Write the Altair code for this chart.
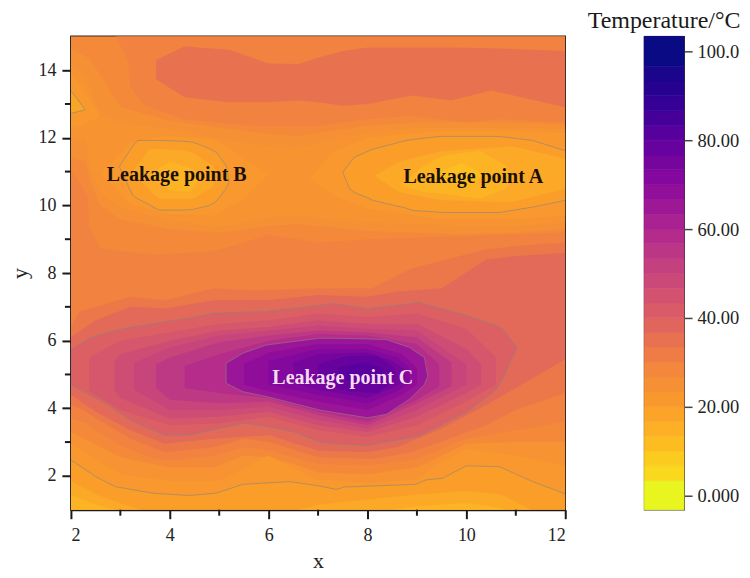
import altair as alt
import pandas as pd

SERIF = "Liberation Serif"

# colour anchors of the scale bar
COLOR_STOPS = [0, 5, 10, 15, 20, 30, 35, 40, 50, 60, 70, 80, 90, 100]
COLOR_HEX = ["#e9f51f", "#f9d81e", "#fdc41f", "#fdb025", "#fa9e29", "#f28240", "#e87150", "#dc5f63",
             "#c8457c", "#b0268f", "#8c0a9c", "#5f00a0", "#2d0094", "#0a0a85"]

BAR_LEVELS = [0, 5, 8.33, 11.67, 15, 18.33, 21.67, 25, 28.33, 31.67, 35, 38.33, 41.67, 45,
              48.33, 51.67, 55, 58.33, 61.67, 65, 68.33, 71.67, 75, 78.33, 81.67, 85, 88.33,
              91.67, 95, 100]
BAR_EDGES = [-3.2, 3.33, 6.67, 10, 13.33, 16.67, 20, 23.33, 26.67, 30, 33.33, 36.67, 40, 43.33,
             46.67, 50, 53.33, 56.67, 60, 63.33, 66.67, 70, 73.33, 76.67, 80, 83.33, 86.67,
             90, 93.33, 96.67, 103.4]
BAR_TICKS = [0, 20, 40, 60, 80, 100]

# (level, xs, lower outline, upper outline), in painting order
BASE = (27, [2, 12], [1, 1], [15, 15])

LOW_ZONE = [
    (30, [2, 2.34, 2.37, 2.6, 3, 3.7, 4, 4.9, 5.5, 6, 7, 8, 9, 10, 11, 12],
     [3.7, 3.55, 3.5, 3.25, 2.9, 2.5, 2.45, 2.6, 2.85, 2.75, 2.35, 2.3, 2.5, 3.1, 3.35, 3.6],
     [11.05, 10.3, 9.35, 8.75, 8.65, 8.55, 8.57, 8.65, 8.9, 9.15, 8.9, 9.0, 9.05, 9.1, 9.15, 9.2]),
    (33, [2, 2.17, 3.2, 3.9, 4.9, 5.5, 6, 7, 8.1, 8.9, 10.4, 11, 12],
     [4.1, 4.0, 3.1, 2.7, 2.85, 3.1, 3.0, 2.55, 2.5, 2.7, 3.5, 3.95, 4.45],
     [6.4, 6.86, 7.3, 7.2, 7.55, 7.5, 7.5, 7.55, 7.55, 8.14, 8.7, 8.8, 8.9]),
    (37, [2, 2.5, 3.2, 3.9, 4.9, 6, 7, 8, 8.6, 9.5, 10.4, 11, 12],
     [4.4, 3.9, 3.35, 2.95, 3.1, 3.2, 2.75, 2.7, 2.85, 3.4, 4.1, 4.6, 5.45],
     [6.1, 6.6, 7.0, 6.95, 7.2, 7.2, 7.35, 7.3, 7.45, 7.55, 8.4, 8.5, 8.6]),
]
RING_X = [2, 2.37, 2.8, 3.25, 3.9, 4.4, 4.87, 5.5, 5.95, 6.5, 7.03, 7.3, 8, 9.05, 10, 10.6, 10.73, 11.03]
RING_LO = [4.69, 4.4, 4.05, 3.6, 3.2, 3.2, 3.36, 3.55, 3.46, 3.3, 3.0, 2.95, 2.9, 3.18, 3.88, 4.55, 4.85, 5.8]
RING_HI = [5.72, 6.07, 6.27, 6.41, 6.56, 6.67, 6.81, 6.85, 6.86, 6.96, 7.05, 7.1, 6.95, 7.13, 6.75, 6.45, 6.35, 5.8]
INNER_X = [5.14, 5.48, 5.95, 7.03, 7.3, 8, 8.38, 8.85, 9.15, 9.22]
INNER_LO = [4.74, 4.49, 4.35, 3.95, 3.88, 3.72, 3.82, 4.27, 4.7, 4.95]
INNER_HI = [5.33, 5.63, 5.87, 6.07, 6.07, 6.05, 6.03, 5.8, 5.5, 4.95]

CORE = [
    (40, RING_X, RING_LO, RING_HI),
    (43, [2.37, 3, 4, 5, 6, 7, 8, 9, 10, 10.6],
     [4.5, 3.95, 3.5, 3.55, 3.75, 3.35, 3.15, 3.5, 4.2, 4.7],
     [5.5, 6.0, 6.25, 6.5, 6.6, 6.8, 6.7, 6.8, 6.35, 5.5]),
    (47, [2.88, 3, 4, 5, 6, 7, 8, 9, 10, 10.3],
     [4.55, 4.3, 3.7, 3.75, 3.9, 3.5, 3.3, 3.75, 4.45, 4.7],
     [5.4, 5.6, 6.0, 6.3, 6.4, 6.6, 6.5, 6.5, 5.75, 5.3]),
    (50, [3.28, 4, 5, 6, 7, 8, 9, 10],
     [4.55, 3.95, 3.95, 4.05, 3.65, 3.4, 3.95, 4.7],
     [5.35, 5.8, 6.15, 6.3, 6.45, 6.35, 6.3, 5.3]),
    (54, [3.72, 4, 5, 6, 7, 8, 9, 9.7],
     [4.6, 4.25, 4.15, 4.2, 3.8, 3.5, 4.15, 4.65],
     [5.3, 5.5, 5.95, 6.15, 6.3, 6.25, 6.1, 5.35]),
    (58, [4.3, 5, 6, 7, 8, 9, 9.45],
     [4.6, 4.45, 4.3, 3.9, 3.6, 4.25, 4.65],
     [5.25, 5.6, 6.0, 6.2, 6.15, 5.9, 5.3]),
    (66, INNER_X, INNER_LO, INNER_HI),
    (69, [5.5, 6, 7, 8, 8.7, 9],
     [4.7, 4.5, 4.2, 3.95, 4.4, 4.7],
     [5.3, 5.65, 5.9, 5.9, 5.6, 5.2]),
    (72, [6, 7, 8, 8.6, 8.85],
     [4.7, 4.4, 4.15, 4.5, 4.75],
     [5.4, 5.75, 5.75, 5.5, 5.2]),
    (75, [6.5, 7, 8, 8.5, 8.75],
     [4.75, 4.55, 4.3, 4.6, 4.8],
     [5.35, 5.6, 5.65, 5.4, 5.15]),
    (78, [7, 7.6, 8.2, 8.55],
     [4.8, 4.5, 4.45, 4.8],
     [5.3, 5.55, 5.55, 5.2]),
    (81, [7.4, 7.9, 8.3],
     [4.9, 4.7, 4.85],
     [5.2, 5.35, 5.2]),
]

TOP_ZONE = [
    (30, [2.9, 3.15, 3.2, 3.5, 4.3, 5.7, 7, 8, 8.9, 10, 10.66, 12],
     [15, 14.3, 13.5, 12.95, 12.55, 12.35, 12.35, 12.55, 12.65, 12.45, 12.55, 12.45],
     [15, 15, 15, 15, 15, 15, 15, 15, 15, 15, 15, 15]),
    (35, [3.72, 4.3, 5.2, 6, 6.6, 7, 7.5, 8, 8.9, 9.7, 10.5, 12],
     [13.73, 13.2, 13.05, 13.05, 13.1, 13.05, 12.95, 13.0, 13.25, 13.1, 13.4, 12.9],
     [14.3, 14.7, 14.6, 14.2, 14.18, 14.37, 14.57, 14.67, 14.67, 14.67, 14.65, 14.57]),
]

MID_X = [2, 2.3, 2.4, 2.6, 3, 4, 5, 5.3, 6, 6.6, 8, 9, 10, 11, 12]
LOW_BLOBS = [
    (25, MID_X,
     [11.4, 11.3, 10.7, 10.0, 9.6, 9.3, 9.2, 9.25, 9.4, 9.45, 9.25, 9.2, 9.15, 9.2, 9.3],
     [14.65, 14.4, 14.25, 13.85, 12.9, 12.5, 12.3, 12.25, 12.1, 12.05, 12.35, 12.45, 12.45, 12.45, 12.4]),
    (23.5, MID_X,
     [11.95, 11.95, 11.05, 10.4, 9.95, 9.55, 9.4, 9.45, 9.65, 9.7, 9.5, 9.45, 9.4, 9.4, 9.5],
     [14.2, 13.8, 13.4, 12.65, 12.45, 12.25, 11.95, 11.9, 11.75, 11.7, 12.15, 12.3, 12.3, 12.3, 12.25]),
    (22, [2, 2.25, 2.55], [12.3, 12.4, 12.6], [13.9, 13.45, 12.75]),
    (18, [2, 2.29], [12.72, 12.83], [13.39, 12.83]),
    (22, [2.6, 3.2, 3.9, 4.9, 5.5, 6.0],
     [10.95, 10.05, 9.75, 9.7, 10.2, 10.95],
     [10.95, 11.85, 12.05, 11.95, 11.4, 10.95]),
    (22, [6.83, 7.3, 8, 9.45, 11, 12],
     [10.8, 10.3, 9.9, 9.6, 9.6, 9.7],
     [10.8, 11.57, 12.0, 12.2, 12.2, 12.15]),
]
B_X = [2.98, 3.25, 3.35, 3.79, 4.26, 4.47, 4.8, 4.94, 5.14, 5.2]
B_LO = [11.15, 10.3, 10.2, 9.86, 9.86, 9.88, 10.0, 10.12, 10.5, 10.7]
B_HI = [11.15, 11.75, 11.92, 11.92, 11.9, 11.87, 11.68, 11.57, 11.18, 10.7]
A_X = [7.5, 7.64, 7.74, 8.04, 8.11, 8.78, 8.92, 9.45, 9.59, 10.66, 11.34, 12]
A_LO = [10.98, 10.49, 10.38, 10.2, 10.15, 9.92, 9.85, 9.8, 9.79, 9.79, 9.95, 10.15]
A_HI = [10.98, 11.25, 11.43, 11.62, 11.66, 11.92, 11.95, 12.04, 12.04, 12.04, 11.92, 11.62]
BLOB_CORES = [
    (20, B_X, B_LO, B_HI),
    (17, [3.25, 3.59, 3.79, 4.33, 4.47, 4.87, 4.95],
     [11.0, 10.45, 10.2, 10.2, 10.2, 10.55, 10.9],
     [11.0, 11.67, 11.67, 11.62, 11.55, 11.18, 10.9]),
    (14, [3.6, 4.0, 4.4, 4.6],
     [10.9, 10.45, 10.4, 10.75],
     [10.9, 11.3, 11.1, 10.95]),
    (20, A_X, A_LO, A_HI),
    (17, [8.14, 8.65, 9.5, 10.93, 12],
     [10.88, 10.39, 10.15, 10.1, 10.5],
     [10.88, 11.3, 11.6, 11.75, 11.38]),
    (14, [8.65, 9.15, 9.52, 10.26, 10.8, 10.95],
     [10.6, 10.4, 10.35, 10.2, 10.5, 10.85],
     [10.6, 11.18, 11.47, 11.62, 11.18, 10.85]),
    (11.5, [9.3, 9.9, 10.4], [10.9, 10.55, 10.9], [10.9, 11.25, 10.9]),
]
BOTTOM = [
    (24, [2, 3, 4, 4.9, 5.5, 6, 6.5, 7, 8, 9, 10, 11, 12],
     [1] * 13,
     [3.3, 2.55, 2.25, 2.25, 2.6, 2.55, 2.35, 2.1, 2.05, 2.25, 2.95, 3.0, 3.0]),
    (22, [2, 3, 4, 5, 5.6, 6, 6.6, 7, 8, 9, 9.5, 10, 11, 12],
     [1] * 14,
     [2.95, 2.05, 1.85, 1.85, 2.3, 2.6, 2.15, 1.9, 1.8, 1.9, 2.4, 2.8, 2.6, 2.3]),
]
BOTTOM_X = [2, 2.5, 2.9, 3.65, 4.4, 4.94, 5.48, 6.43, 7.03, 7.37, 7.53, 8.98, 9.18, 9.52, 10, 10.67, 11.34, 12]
BOTTOM_Y = [2.47, 1.98, 1.68, 1.49, 1.42, 1.49, 1.75, 1.83, 1.7, 1.6, 1.67, 1.75, 1.88, 1.93, 2.3, 2.27, 1.83, 1.47]
BOTTOM_CORE = [
    (20, BOTTOM_X, [1] * 18, BOTTOM_Y),
    (17, [2, 2.5, 3, 3.4, 6.6, 7, 8, 9, 10, 10.7, 11.3, 12],
     [1] * 12,
     [1.85, 1.45, 1.2, 1.0, 1.0, 1.15, 1.3, 1.45, 1.55, 1.45, 1.0, 1.0]),
    (14, [2, 2.5, 2.9, 8.5, 9, 10, 10.5, 10.8, 12],
     [1] * 9,
     [1.45, 1.15, 1.0, 1.0, 1.1, 1.2, 1.1, 1.0, 1.0]),
]
TRI_X = [2, 2.29, 2]
TRI_Y = [13.39, 12.83, 12.72]

LABELS = ["Leakage point B", "Leakage point A", "Leakage point C"]
LABEL_X = [4.14, 10.14, 7.5]
LABEL_Y = [10.9, 10.85, 4.9]
LABEL_COLOR = ["#1a1008", "#1a1008", "#f6dcf0"]
LABEL_SIZE = [20, 20, 20]

X_MAJOR = [2, 4, 6, 8, 10, 12]
X_MINOR = [3, 5, 7, 9, 11]
Y_MAJOR = [2, 4, 6, 8, 10, 12, 14]
Y_MINOR = [3, 5, 7, 9, 11, 13]

xscale = alt.Scale(domain=[2, 12], nice=False, zero=False)
yscale = alt.Scale(domain=[1, 15], nice=False, zero=False)
cscale = alt.Scale(domain=COLOR_STOPS, range=COLOR_HEX, interpolate="rgb")
X = alt.X("x:Q", scale=xscale, axis=alt.Axis(values=X_MAJOR, title="x", format="d", grid=False,
          domainWidth=2, domainColor="#1a1a1a", tickWidth=2, tickColor="#1a1a1a", tickSize=9,
          labelPadding=8, titlePadding=6))
Y = alt.Y("lo:Q", scale=yscale, axis=alt.Axis(values=Y_MAJOR, title="y", format="d", grid=False,
          domainWidth=2, domainColor="#1a1a1a", tickWidth=2, tickColor="#1a1a1a", tickSize=9,
          labelPadding=6, titlePadding=6.2))


def band(spec):
    level, xs, lo, hi = spec
    df = pd.DataFrame({"x": xs, "lo": lo, "hi": hi, "level": [level] * len(xs)})
    return alt.Chart(df).mark_area(interpolate="linear", clip=True, line=False).encode(
        x=X, y=Y, y2="hi:Q",
        color=alt.Color("level:Q", scale=cscale, legend=None))


def contour(xs, ys):
    df = pd.DataFrame({"x": xs, "lo": ys, "i": list(range(len(xs)))})
    return alt.Chart(df).mark_line(color="#8a8580", strokeWidth=1, opacity=0.6, clip=True).encode(
        x=X, y=Y, order="i:Q")


def closed(xs, lo, hi):
    return (list(xs) + list(reversed(xs)) + [xs[0]],
            list(hi) + list(reversed(lo)) + [hi[0]])


layers = [band(s) for s in [BASE] + LOW_ZONE + TOP_ZONE + CORE + LOW_BLOBS + BLOB_CORES + BOTTOM + BOTTOM_CORE]
layers.append(contour(*closed(RING_X, RING_LO, RING_HI)))
layers.append(contour(*closed(INNER_X, INNER_LO, INNER_HI)))
layers.append(contour(*closed(B_X, B_LO, B_HI)))
layers.append(contour(list(reversed(A_X)) + A_X, list(reversed(A_HI)) + A_LO))
layers.append(contour(BOTTOM_X, BOTTOM_Y))
layers.append(contour(TRI_X, TRI_Y))

for name, x0, y0, col, size in zip(LABELS, LABEL_X, LABEL_Y, LABEL_COLOR, LABEL_SIZE):
    layers.append(alt.Chart(pd.DataFrame({"x": [x0], "lo": [y0], "t": [name]})).mark_text(
        font=SERIF, fontWeight="bold", fontSize=size, color=col).encode(x=X, y=Y, text="t:N"))

layers.append(alt.Chart(pd.DataFrame({"x": X_MINOR})).mark_rule(color="#1a1a1a", strokeWidth=2, clip=False).encode(
    x=X, y=alt.value(474), y2=alt.value(480)))
layers.append(alt.Chart(pd.DataFrame({"lo": Y_MINOR})).mark_rule(color="#1a1a1a", strokeWidth=2, clip=False).encode(
    y=Y, x=alt.value(0), x2=alt.value(-6)))

main = alt.layer(*layers).properties(
    width=495, height=474,
    view=alt.ViewConfig(stroke="#222222", strokeWidth=1.5))

bar_df = pd.DataFrame({"level": BAR_LEVELS, "lo": BAR_EDGES[:-1], "hi": BAR_EDGES[1:]})
bar_y = alt.Scale(domain=[-3.2, 103.4], nice=False, zero=False)
label_expr = ("datum.value == 100 ? '100.0' : datum.value == 0 ? '0.000' : format(datum.value, '.2f')")
bar = alt.Chart(bar_df).mark_rect(x=0, x2=40, strokeWidth=0.6).encode(
    y=alt.Y("lo:Q", scale=bar_y, axis=alt.Axis(orient="right", values=BAR_TICKS, title=None, grid=False,
            domain=False, tickSize=8, tickWidth=1.5, tickColor="#444444", labelExpr=label_expr,
            labelPadding=5, labelFontSize=18.5)),
    y2="hi:Q",
    color=alt.Color("level:Q", scale=cscale, legend=None),
    stroke=alt.Stroke("level:Q", scale=cscale, legend=None),
).properties(
    width=40, height=474,
    view=alt.ViewConfig(stroke="#333333", strokeWidth=1.2),
    title=alt.TitleParams("Temperature/°C", font=SERIF, fontSize=24, fontWeight="normal",
                          color="#1a1a1a", anchor="middle", offset=3),
)

chart = alt.hconcat(main, bar, spacing=79, bounds="flush").configure(
    font=SERIF,
    padding={"left": 0, "top": 0, "right": 0, "bottom": 0},
).configure_axis(
    labelFont=SERIF, titleFont=SERIF, labelFontSize=18, titleFontSize=22,
    labelColor="#222222", titleColor="#222222", titleFontWeight="normal",
)

chart.save("out.html", embed_options={"renderer": "svg", "actions": False})
